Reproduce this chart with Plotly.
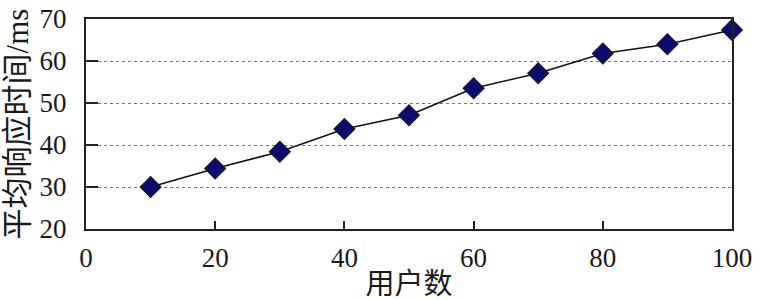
import plotly.graph_objects as go

users = [10, 20, 30, 40, 50, 60, 70, 80, 90, 100]
resp_ms = [30.0, 34.4, 38.4, 43.8, 47.1, 53.5, 57.1, 61.8, 64.0, 67.4]
x_ticks = [0, 20, 40, 60, 80, 100]
y_ticks = [20, 30, 40, 50, 60, 70]

SERIF = "Liberation Serif"
TITLE_FONT = "Liberation Serif, Noto Sans CJK SC"

fig = go.Figure()
fig.add_trace(go.Scatter(
    x=users, y=resp_ms, mode="lines+markers",
    line=dict(color="#111111", width=1.6),
    marker=dict(symbol="diamond", size=16, color="#0b0b72",
                line=dict(color="#1a1a1a", width=1.2)),
    showlegend=False, cliponaxis=False,
))

fig.update_layout(
    template="none",
    width=759, height=300,
    margin=dict(l=86, r=27, t=19, b=71),
    paper_bgcolor="white", plot_bgcolor="white",
    font=dict(family=SERIF, size=27, color="#1a1a1a"),
)
fig.update_xaxes(
    automargin=False,
    range=[0, 100], tickvals=x_ticks, ticktext=[str(v) for v in x_ticks],
    ticks="inside", ticklen=8, tickwidth=1.5, tickcolor="#222",
    showline=True, linecolor="#222", linewidth=2, mirror=True,
    showgrid=False, zeroline=False,
    ticklabelstandoff=4,
    tickfont=dict(family=SERIF, size=27),
    title=dict(text="用户数", font=dict(size=29, family=TITLE_FONT), standoff=3),
)
fig.update_yaxes(
    automargin=False,
    range=[20, 70], tickvals=y_ticks, ticktext=[str(v) for v in y_ticks],
    ticks="inside", ticklen=12, tickwidth=1.5, tickcolor="#222",
    showline=True, linecolor="#222", linewidth=2, mirror=True,
    showgrid=True, gridcolor="#777", griddash="dot", gridwidth=1,
    zeroline=False,
    ticklabelstandoff=12,
    tickfont=dict(family=SERIF, size=27),
    title=dict(text="平均响应时间/ms", font=dict(size=31, family=TITLE_FONT), standoff=4),
)

fig.write_html("out.html")
